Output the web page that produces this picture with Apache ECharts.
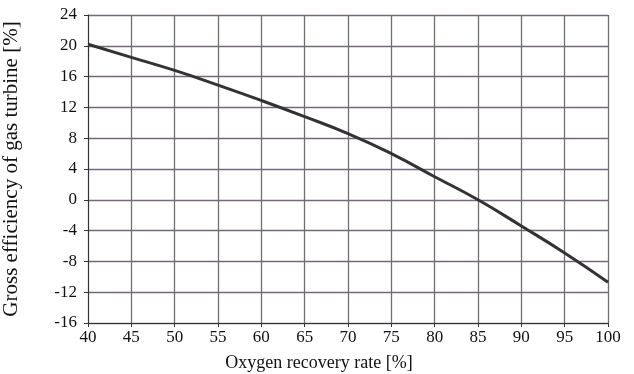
<!DOCTYPE html>
<html>
<head>
<meta charset="utf-8">
<script src="https://cdn.jsdelivr.net/npm/echarts@6/dist/echarts.min.js"></script>
<style>
  html, body { margin: 0; padding: 0; background: #fff; }
  #chart { width: 634px; height: 374px; }
</style>
</head>
<body>
<div id="chart"></div>
<script>
  // values
  const recoveryRate = [40, 45, 50, 55, 60, 65, 70, 75, 80, 85, 90, 95, 100]
  const grossEfficiency = [20.2, 18.5, 16.8, 14.9, 12.9, 10.8, 8.6, 6.0, 3.0, 0.0, -3.4, -6.9, -10.7]

  const font = 'Liberation Serif'
  const chart = echarts.init(document.getElementById('chart'))

  chart.setOption({
    animation: false,
    grid: {
      left: 88,
      right: 26,
      top: 15,
      bottom: 51,
      outerBoundsMode: 'none',
      containLabel: false
    },
    xAxis: {
      type: 'value',
      min: 40,
      max: 100,
      interval: 5,
      name: 'Oxygen recovery rate [%]',
      nameLocation: 'middle',
      nameGap: 31,
      nameTextStyle: { fontFamily: font, fontSize: 18, color: '#111', padding: [0, 58, 0, 0] },
      axisLine: { onZero: false, lineStyle: { color: '#333', width: 1 } },
      axisTick: { show: true, length: 4, lineStyle: { color: '#333' } },
      axisLabel: { fontFamily: font, fontSize: 17, color: '#111', margin: 6 },
      splitLine: { show: true, lineStyle: { color: '#6f6f6f', width: 1.3 } }
    },
    yAxis: {
      type: 'value',
      min: -16,
      max: 24,
      interval: 4,
      name: 'Gross efficiency of gas turbine [%]',
      nameLocation: 'middle',
      nameGap: 66,
      nameTextStyle: { fontFamily: font, fontSize: 21, color: '#111' },
      axisLine: { show: true, lineStyle: { color: '#333', width: 1 } },
      axisTick: { show: true, length: 4, lineStyle: { color: '#333' } },
      axisLabel: { fontFamily: font, fontSize: 17, color: '#111', margin: 11 },
      splitLine: { show: true, lineStyle: { color: '#74697b', width: 1.3 } }
    },
    series: [
      {
        type: 'line',
        smooth: true,
        symbol: 'none',
        data: recoveryRate.map((x, i) => [x, grossEfficiency[i]]),
        lineStyle: { color: '#333', width: 3 }
      }
    ]
  })
</script>
</body>
</html>
